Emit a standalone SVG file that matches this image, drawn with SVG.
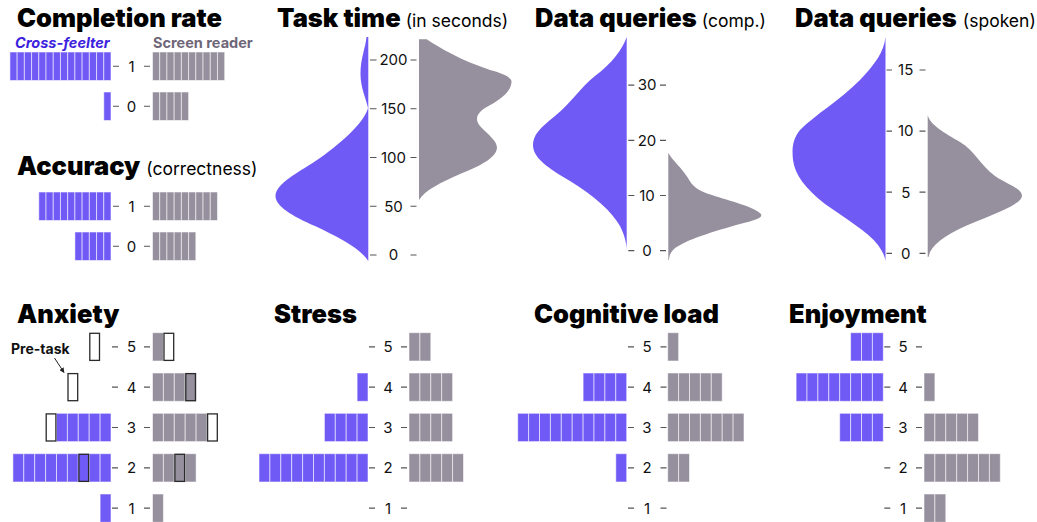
<svg xmlns="http://www.w3.org/2000/svg" xmlns:xlink="http://www.w3.org/1999/xlink" width="1037" height="522" viewBox="0 0 1037 522">
  <style>
    .p { fill: #705AF5; stroke: #ffffff; stroke-opacity: 0.55; stroke-width: 1; }
    .g { fill: #968F9D; stroke: #ffffff; stroke-opacity: 0.55; stroke-width: 1; }
    .vp { fill: #705AF5; }
    .vg { fill: #968F9D; }
    .box { fill: none; stroke: #2a2a2a; stroke-width: 1.3; }
    .boxw { fill: #ffffff; stroke: #2a2a2a; stroke-width: 1.3; }
    .tk { stroke: #555555; stroke-width: 1.2; fill: none; }
    .num { font-family: Inter, "Liberation Sans", sans-serif; font-size: 15px; fill: #111111; text-anchor: middle; }
    .ttl { font-family: Inter, "Liberation Sans", sans-serif; font-weight: 900; font-size: 25.5px; fill: #000000; }
    .sub { font-weight: 400; font-size: 17.5px; }
    .leg { font-family: Inter, "Liberation Sans", sans-serif; font-weight: 700; font-size: 14.5px; }
    .pre { font-family: Inter, "Liberation Sans", sans-serif; font-weight: 700; font-size: 14px; fill: #111111; }
  </style>
  <defs>
    <rect id="sp" width="7.22" height="28.5" class="p"/>
    <rect id="sg" width="7.22" height="28.5" class="g"/>
    <rect id="lp" width="10.9" height="28.3" class="p"/>
    <rect id="lg" width="10.9" height="28.3" class="g"/>
    <marker id="ah" viewBox="0 0 10 10" refX="9" refY="5" markerWidth="5" markerHeight="5" orient="auto">
      <path d="M0,0 L10,5 L0,10 Z" fill="#222222"/>
    </marker>
  </defs>
  <rect width="1037" height="522" fill="#ffffff"/>

  <!-- Completion rate -->
  <g id="completion">
    <text class="ttl" x="17" y="26.5">Completion rate</text>
    <text class="leg" x="15" y="48" fill="#3D22DD" font-style="italic">Cross-feelter</text>
    <text class="leg" x="153" y="48" fill="#6E6678" font-size="14">Screen reader</text>
    <g>
      <use href="#sp" x="9.92" y="52"/><use href="#sp" x="17.14" y="52"/><use href="#sp" x="24.36" y="52"/><use href="#sp" x="31.58" y="52"/>
      <use href="#sp" x="38.80" y="52"/><use href="#sp" x="46.02" y="52"/><use href="#sp" x="53.24" y="52"/><use href="#sp" x="60.46" y="52"/>
      <use href="#sp" x="67.68" y="52"/><use href="#sp" x="74.90" y="52"/><use href="#sp" x="82.12" y="52"/><use href="#sp" x="89.34" y="52"/>
      <use href="#sp" x="96.56" y="52"/><use href="#sp" x="103.78" y="52"/>
      <use href="#sg" x="152.5" y="52"/><use href="#sg" x="159.72" y="52"/><use href="#sg" x="166.94" y="52"/><use href="#sg" x="174.16" y="52"/>
      <use href="#sg" x="181.38" y="52"/><use href="#sg" x="188.60" y="52"/><use href="#sg" x="195.82" y="52"/><use href="#sg" x="203.04" y="52"/>
      <use href="#sg" x="210.26" y="52"/><use href="#sg" x="217.48" y="52"/>
      <use href="#sp" x="103.78" y="92"/>
      <use href="#sg" x="152.5" y="92"/><use href="#sg" x="159.72" y="92"/><use href="#sg" x="166.94" y="92"/><use href="#sg" x="174.16" y="92"/>
      <use href="#sg" x="181.38" y="92"/>
    </g>
    <path class="tk" d="M113 66.25h6M144 66.25h6M113 106.25h6M144 106.25h6"/>
    <text class="num" x="131.5" y="71.5">1</text>
    <text class="num" x="131.5" y="111.5">0</text>
  </g>

  <!-- Accuracy -->
  <g id="accuracy">
    <text class="ttl" x="17" y="175">Accuracy<tspan class="sub" dx="6">(correctness)</tspan></text>
    <g>
      <use href="#sp" x="38.80" y="192"/><use href="#sp" x="46.02" y="192"/><use href="#sp" x="53.24" y="192"/><use href="#sp" x="60.46" y="192"/>
      <use href="#sp" x="67.68" y="192"/><use href="#sp" x="74.90" y="192"/><use href="#sp" x="82.12" y="192"/><use href="#sp" x="89.34" y="192"/>
      <use href="#sp" x="96.56" y="192"/><use href="#sp" x="103.78" y="192"/>
      <use href="#sg" x="152.5" y="192"/><use href="#sg" x="159.72" y="192"/><use href="#sg" x="166.94" y="192"/><use href="#sg" x="174.16" y="192"/>
      <use href="#sg" x="181.38" y="192"/><use href="#sg" x="188.60" y="192"/><use href="#sg" x="195.82" y="192"/><use href="#sg" x="203.04" y="192"/>
      <use href="#sg" x="210.26" y="192"/>
      <use href="#sp" x="74.90" y="232"/><use href="#sp" x="82.12" y="232"/><use href="#sp" x="89.34" y="232"/><use href="#sp" x="96.56" y="232"/>
      <use href="#sp" x="103.78" y="232"/>
      <use href="#sg" x="152.5" y="232"/><use href="#sg" x="159.72" y="232"/><use href="#sg" x="166.94" y="232"/><use href="#sg" x="174.16" y="232"/>
      <use href="#sg" x="181.38" y="232"/><use href="#sg" x="188.60" y="232"/>
    </g>
    <path class="tk" d="M113 206.25h6M144 206.25h6M113 246.25h6M144 246.25h6"/>
    <text class="num" x="131.5" y="211.5">1</text>
    <text class="num" x="131.5" y="251.5">0</text>
  </g>

  <!-- Task time violins -->
  <g id="task-time">
    <text class="ttl" x="277" y="26.5">Task time<tspan class="sub" dx="5">(in seconds)</tspan></text>
    <path class="vp" d="M368.3,37 L366.5,37 C365.5,48 360.5,58 360.5,74 C360.5,88 366,98 368,108 C364,122 345,140 320,158 C298,173 276,183 275.5,196 C275.5,206 292,216 315,226 C338,237 360,248 368.3,261 Z"/>
    <path class="vg" d="M419,39.3 L426.7,39.3 C440,48 460,60 490,70 C505,74 512,78 511.5,82 C511,92 500,100 485,108 C476,114 475,120 480,126 C488,135 497,140 497,148 C496,158 480,166 460,174 C440,183 425,190 419,200 Z"/>
    <path class="tk" d="M370 60h6.5M410.5 60h6M370 108.75h6.5M410.5 108.75h6M370 157.5h6.5M410.5 157.5h6M370 206.25h6.5M410.5 206.25h6M370 255h6.5M410.5 255h6"/>
    <text class="num" x="393.5" y="65.3">200</text>
    <text class="num" x="393.5" y="114">150</text>
    <text class="num" x="393.5" y="162.8">100</text>
    <text class="num" x="393.5" y="211.5">50</text>
    <text class="num" x="393.5" y="260.3">0</text>
  </g>

  <!-- Data queries (comp.) violins -->
  <g id="queries-comp">
    <text class="ttl" x="535" y="26.5">Data queries<tspan class="sub" dx="5">(comp.)</tspan></text>
    <path class="vp" d="M626.7,37 C622,50 612,63 595,76 C580,88 572,102 555,116 C540,128 533,135 533,145 C533,158 548,168 570,181 C595,196 612,212 620,226 C625,236 626.5,244 626.7,249 Z"/>
    <path class="vg" d="M668.3,152.7 C672,160 682,168 688,178 C692,186 698,191 712,195 C730,201 755,207 761,214 C763,218 755,220 740,224 C715,231 685,240 674,249 C670,253 669,257 669,260 L668.3,260 Z"/>
    <path class="tk" d="M628.3 85.1h6M660 85.1h6M628.3 140.3h6M660 140.3h6M628.3 195.5h6M660 195.5h6M628.3 250.7h6M660 250.7h6"/>
    <text class="num" x="647" y="90.4">30</text>
    <text class="num" x="647" y="145.6">20</text>
    <text class="num" x="647" y="200.8">10</text>
    <text class="num" x="647" y="256">0</text>
  </g>

  <!-- Data queries (spoken) violins -->
  <g id="queries-spoken">
    <text class="ttl" x="795" y="26.5">Data queries<tspan class="sub" dx="6">(spoken)</tspan></text>
    <path class="vp" d="M885.5,37 C884,52 875,64 860,80 C840,100 815,115 800,130 C792,140 792,150 793,160 C795,175 805,188 825,204 C845,218 868,232 878,245 C883,252 885,257 885.5,261 Z"/>
    <path class="vg" d="M927.7,115 C930,125 945,133 960,142 C975,151 980,165 995,176 C1008,185 1022,188 1022,196 C1021,204 1000,212 975,222 C950,232 935,242 930,252 L928.5,257 L927.7,257 Z"/>
    <path class="tk" d="M886.5 70h5.5M919.5 70h6M886.5 131.1h5.5M919.5 131.1h6M886.5 192.2h5.5M919.5 192.2h6M886.5 253.3h5.5M919.5 253.3h6"/>
    <text class="num" x="905.7" y="75.3">15</text>
    <text class="num" x="905.7" y="136.4">10</text>
    <text class="num" x="905.7" y="197.5">5</text>
    <text class="num" x="905.7" y="258.6">0</text>
  </g>

  <!-- Anxiety -->
  <g id="anxiety">
    <text class="ttl" x="17" y="323">Anxiety</text>
    <g>
      <use href="#lg" x="152.5" y="332.7"/>
      <use href="#lg" x="152.5" y="373"/><use href="#lg" x="163.4" y="373"/><use href="#lg" x="174.3" y="373"/><use href="#lg" x="185.2" y="373"/>
      <use href="#lp" x="56.5" y="413.3"/><use href="#lp" x="67.4" y="413.3"/><use href="#lp" x="78.3" y="413.3"/><use href="#lp" x="89.2" y="413.3"/><use href="#lp" x="100.1" y="413.3"/>
      <use href="#lg" x="152.5" y="413.3"/><use href="#lg" x="163.4" y="413.3"/><use href="#lg" x="174.3" y="413.3"/><use href="#lg" x="185.2" y="413.3"/><use href="#lg" x="196.1" y="413.3"/>
      <use href="#lp" x="12.9" y="453.7"/><use href="#lp" x="23.8" y="453.7"/><use href="#lp" x="34.7" y="453.7"/><use href="#lp" x="45.6" y="453.7"/><use href="#lp" x="56.5" y="453.7"/>
      <use href="#lp" x="67.4" y="453.7"/><use href="#lp" x="78.3" y="453.7"/><use href="#lp" x="89.2" y="453.7"/><use href="#lp" x="100.1" y="453.7"/>
      <use href="#lg" x="152.5" y="453.7"/><use href="#lg" x="163.4" y="453.7"/><use href="#lg" x="174.3" y="453.7"/><use href="#lg" x="185.2" y="453.7"/>
      <use href="#lp" x="100.1" y="494"/>
      <use href="#lg" x="152.5" y="494"/>
    </g>
    <g>
      <rect class="boxw" x="89.8" y="333.3" width="9.7" height="27.1"/>
      <rect class="boxw" x="164" y="333.3" width="9.7" height="27.1"/>
      <rect class="boxw" x="68" y="373.6" width="9.7" height="27.1"/>
      <rect class="box" x="185.8" y="373.6" width="9.7" height="27.1"/>
      <rect class="boxw" x="46.2" y="413.9" width="9.7" height="27.1"/>
      <rect class="boxw" x="207.6" y="413.9" width="9.7" height="27.1"/>
      <rect class="box" x="78.9" y="454.3" width="9.7" height="27.1"/>
      <rect class="box" x="174.9" y="454.3" width="9.7" height="27.1"/>
    </g>
    <text class="pre" x="11" y="354">Pre-task</text>
    <path class="tk" d="M112 346.9h6M144 346.9h6M112 387.2h6M144 387.2h6M112 427.5h6M144 427.5h6M112 467.8h6M144 467.8h6M112 508.2h6M144 508.2h6"/>
    <text class="num" x="131.5" y="352.2">5</text>
    <text class="num" x="131.5" y="392.5">4</text>
    <text class="num" x="131.5" y="432.8">3</text>
    <text class="num" x="131.5" y="473.1">2</text>
    <text class="num" x="131.5" y="513.5">1</text>
  </g>

  <!-- Stress -->
  <g id="stress">
    <text class="ttl" x="274" y="323">Stress</text>
    <g>
      <use href="#lg" x="409" y="332.7"/><use href="#lg" x="419.9" y="332.7"/>
      <use href="#lp" x="357.1" y="373"/>
      <use href="#lg" x="409" y="373"/><use href="#lg" x="419.9" y="373"/><use href="#lg" x="430.8" y="373"/><use href="#lg" x="441.7" y="373"/>
      <use href="#lp" x="324.4" y="413.3"/><use href="#lp" x="335.3" y="413.3"/><use href="#lp" x="346.2" y="413.3"/><use href="#lp" x="357.1" y="413.3"/>
      <use href="#lg" x="409" y="413.3"/><use href="#lg" x="419.9" y="413.3"/><use href="#lg" x="430.8" y="413.3"/><use href="#lg" x="441.7" y="413.3"/>
      <use href="#lp" x="259.0" y="453.7"/><use href="#lp" x="269.9" y="453.7"/><use href="#lp" x="280.8" y="453.7"/><use href="#lp" x="291.7" y="453.7"/><use href="#lp" x="302.6" y="453.7"/>
      <use href="#lp" x="313.5" y="453.7"/><use href="#lp" x="324.4" y="453.7"/><use href="#lp" x="335.3" y="453.7"/><use href="#lp" x="346.2" y="453.7"/><use href="#lp" x="357.1" y="453.7"/>
      <use href="#lg" x="409" y="453.7"/><use href="#lg" x="419.9" y="453.7"/><use href="#lg" x="430.8" y="453.7"/><use href="#lg" x="441.7" y="453.7"/><use href="#lg" x="452.6" y="453.7"/>
    </g>
    <path class="tk" d="M369 346.9h6M401 346.9h6M369 387.2h6M401 387.2h6M369 427.5h6M401 427.5h6M369 467.8h6M401 467.8h6M369 508.2h6M401 508.2h6"/>
    <text class="num" x="388" y="352.2">5</text>
    <text class="num" x="388" y="392.5">4</text>
    <text class="num" x="388" y="432.8">3</text>
    <text class="num" x="388" y="473.1">2</text>
    <text class="num" x="388" y="513.5">1</text>
  </g>

  <!-- Cognitive load -->
  <g id="cognitive-load">
    <text class="ttl" x="534" y="323">Cognitive load</text>
    <g>
      <use href="#lg" x="667.7" y="332.7"/>
      <use href="#lp" x="583.1" y="373"/><use href="#lp" x="594.0" y="373"/><use href="#lp" x="604.9" y="373"/><use href="#lp" x="615.8" y="373"/>
      <use href="#lg" x="667.7" y="373"/><use href="#lg" x="678.6" y="373"/><use href="#lg" x="689.5" y="373"/><use href="#lg" x="700.4" y="373"/><use href="#lg" x="711.3" y="373"/>
      <use href="#lp" x="517.7" y="413.3"/><use href="#lp" x="528.6" y="413.3"/><use href="#lp" x="539.5" y="413.3"/><use href="#lp" x="550.4" y="413.3"/><use href="#lp" x="561.3" y="413.3"/>
      <use href="#lp" x="572.2" y="413.3"/><use href="#lp" x="583.1" y="413.3"/><use href="#lp" x="594.0" y="413.3"/><use href="#lp" x="604.9" y="413.3"/><use href="#lp" x="615.8" y="413.3"/>
      <use href="#lg" x="667.7" y="413.3"/><use href="#lg" x="678.6" y="413.3"/><use href="#lg" x="689.5" y="413.3"/><use href="#lg" x="700.4" y="413.3"/><use href="#lg" x="711.3" y="413.3"/>
      <use href="#lg" x="722.2" y="413.3"/><use href="#lg" x="733.1" y="413.3"/>
      <use href="#lp" x="615.8" y="453.7"/>
      <use href="#lg" x="667.7" y="453.7"/><use href="#lg" x="678.6" y="453.7"/>
    </g>
    <path class="tk" d="M628 346.9h6M660.5 346.9h6M628 387.2h6M660.5 387.2h6M628 427.5h6M660.5 427.5h6M628 467.8h6M660.5 467.8h6M628 508.2h6M660.5 508.2h6"/>
    <text class="num" x="647" y="352.2">5</text>
    <text class="num" x="647" y="392.5">4</text>
    <text class="num" x="647" y="432.8">3</text>
    <text class="num" x="647" y="473.1">2</text>
    <text class="num" x="647" y="513.5">1</text>
  </g>

  <!-- Enjoyment -->
  <g id="enjoyment">
    <text class="ttl" x="789" y="323">Enjoyment</text>
    <g>
      <use href="#lp" x="850.6" y="332.7"/><use href="#lp" x="861.5" y="332.7"/><use href="#lp" x="872.4" y="332.7"/>
      <use href="#lp" x="796.1" y="373"/><use href="#lp" x="807.0" y="373"/><use href="#lp" x="817.9" y="373"/><use href="#lp" x="828.8" y="373"/>
      <use href="#lp" x="839.7" y="373"/><use href="#lp" x="850.6" y="373"/><use href="#lp" x="861.5" y="373"/><use href="#lp" x="872.4" y="373"/>
      <use href="#lg" x="924" y="373"/>
      <use href="#lp" x="839.7" y="413.3"/><use href="#lp" x="850.6" y="413.3"/><use href="#lp" x="861.5" y="413.3"/><use href="#lp" x="872.4" y="413.3"/>
      <use href="#lg" x="924" y="413.3"/><use href="#lg" x="934.9" y="413.3"/><use href="#lg" x="945.8" y="413.3"/><use href="#lg" x="956.7" y="413.3"/><use href="#lg" x="967.6" y="413.3"/>
      <use href="#lg" x="924" y="453.7"/><use href="#lg" x="934.9" y="453.7"/><use href="#lg" x="945.8" y="453.7"/><use href="#lg" x="956.7" y="453.7"/><use href="#lg" x="967.6" y="453.7"/>
      <use href="#lg" x="978.5" y="453.7"/><use href="#lg" x="989.4" y="453.7"/>
      <use href="#lg" x="924" y="494"/><use href="#lg" x="934.9" y="494"/>
    </g>
    <path class="tk" d="M884.3 346.9h6M916 346.9h6M884.3 387.2h6M916 387.2h6M884.3 427.5h6M916 427.5h6M884.3 467.8h6M916 467.8h6M884.3 508.2h6M916 508.2h6"/>
    <text class="num" x="903" y="352.2">5</text>
    <text class="num" x="903" y="392.5">4</text>
    <text class="num" x="903" y="432.8">3</text>
    <text class="num" x="903" y="473.1">2</text>
    <text class="num" x="903" y="513.5">1</text>
  </g>

  <!-- Connectors -->
  <g id="connectors">
    <line x1="54.5" y1="358" x2="64" y2="372.5" stroke="#222222" stroke-width="1" marker-end="url(#ah)"/>
  </g>
</svg>
